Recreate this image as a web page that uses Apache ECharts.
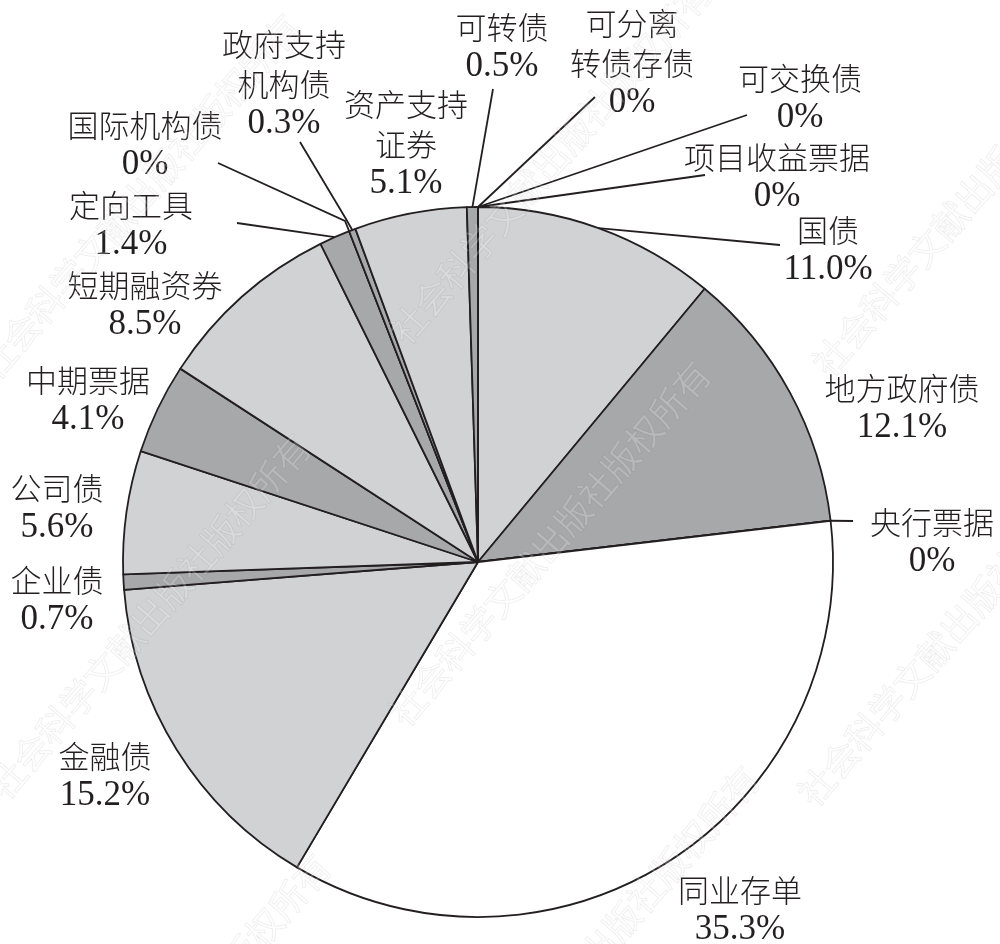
<!DOCTYPE html>
<html><head><meta charset="utf-8">
<script src="https://cdn.jsdelivr.net/npm/echarts@6/dist/echarts.min.js"></script>
<style>html,body{margin:0;padding:0;background:#fff}#c{width:1000px;height:944px}</style>
</head><body><div id="c"></div>
<script>
// ---- data ----
const categories = ['国债','地方政府债','央行票据','同业存单','金融债','企业债','公司债','中期票据','短期融资券','定向工具','国际机构债','政府支持机构债','资产支持证券','可转债','可分离转债存债','可交换债','项目收益票据'];
const shares = [11.0,12.1,0,35.3,15.2,0.7,5.6,4.1,8.5,1.4,0,0.3,5.1,0.5,0,0,0];
const labelNames = ['国债','地方政府债','央行票据','同业存单','金融债','企业债','公司债','中期票据','短期融资券','定向工具','国际机构债','政府支持\n机构债','资产支持\n证券','可转债','可分离\n转债存债','可交换债','项目收益票据'];
const shades = ['light','dark','dark','white','light','dark','light','dark','light','dark','dark','dark','light','dark','dark','dark','dark'];

// ---- layout / style ----
const CX = 478, CY = 562, R = 355;
const palette = {light:'#d1d2d4', dark:'#a7a8aa', white:'#ffffff'};
const labelPlaces = [
  [828,250],[902,408],[932,542],[740,910],[105,776],[57,600],[57,508],[88,400],
  [145,305],[131,225],[145,145],[284,84],[406,144],[502,47],[632,63],[800,98],[777,177]
];
const lineEnds = [
  [[780,245]], null, [[853,521]], null, null, null, null, null,
  null, [[237,223]], [[345,221],[218,163]], [[346,219],[300,142]], null,
  [[493,89]], [[595,97]], [[747,115]], [[705,175]]
];

const total = shares.reduce((a,b)=>a+b,0);
function edgePoint(i){
  let cum = 0; for (let k=0;k<i;k++) cum += shares[k];
  const th = (cum + shares[i]/2) / total * Math.PI * 2;
  return [CX + R*Math.sin(th), CY - R*Math.cos(th)];
}
function pctText(v){ return v === 0 ? '0%' : v.toFixed(1) + '%'; }

const data = categories.map((name,i)=>({
  name: name,
  value: shares[i],
  itemStyle: {color: palette[shades[i]]},
  labelLine: {show: !!lineEnds[i]}
}));

const chart = echarts.init(document.getElementById('c'), null, {renderer:'canvas'});

const wmText = '社会科学文献出版社版权所有';
const wmStarts = [[-14,373],[397,338],[-4,793],[396,720],[820,370],[805,800],[16,1213],[445,1125]];
const graphics = wmStarts.map(p=>({
  type:'text', x:p[0], y:p[1], rotation: 49*Math.PI/180, z:100, silent:true,
  style:{text: wmText, font:'36px "Noto Sans CJK SC"', fill:'rgba(255,255,255,0.2)', stroke:'rgba(0,0,0,0.07)', lineWidth:1, textVerticalAlign:'middle', textAlign:'left'}
}));

chart.setOption({
  animation:false,
  backgroundColor:'#ffffff',
  graphic: graphics,
  series:[{
    type:'pie',
    center:[CX, CY],
    radius: R,
    startAngle: 90,
    clockwise: true,
    avoidLabelOverlap: false,
    emphasis:{disabled:true},
    itemStyle:{borderColor:'#231f20', borderWidth:1.8},
    label:{
      show:true, position:'outside',
      formatter: function(p){
        const lines = labelNames[p.dataIndex].split('\n').map(s=>'{n|'+s+'}');
        return lines.join('\n') + '\n{v|' + pctText(shares[p.dataIndex]) + '}';
      },
      rich:{
        n:{fontFamily:'"Noto Sans CJK SC"', fontWeight:300, fontSize:31, lineHeight:40, color:'#231f20'},
        v:{fontFamily:'"Liberation Serif"', fontSize:35, lineHeight:40, color:'#231f20'}
      }
    },
    labelLine:{show:true, smooth:false, lineStyle:{color:'#231f20', width:1.8}},
    labelLayout: function(p){
      const i = p.dataIndex;
      const res = {x: labelPlaces[i][0], y: labelPlaces[i][1], align:'center', verticalAlign:'middle', hideOverlap:false, moveOverlap:null};
      if (lineEnds[i]) {
        const e = edgePoint(i);
        const pts = [e].concat(lineEnds[i]);
        if (pts.length === 2) pts.splice(1, 0, pts[1].slice());
        res.labelLinePoints = pts;
      }
      return res;
    },
    data: data
  }]
});
</script></body></html>
